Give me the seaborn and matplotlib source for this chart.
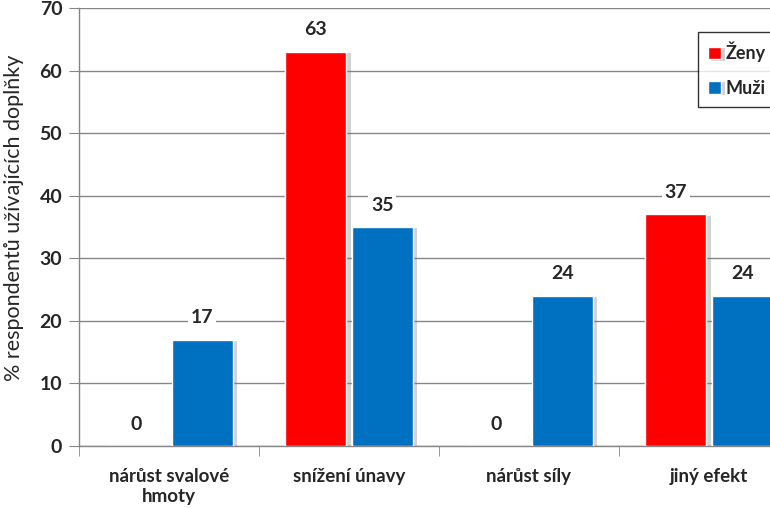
import numpy as np
import pandas as pd
import matplotlib
matplotlib.use('Agg')
import matplotlib.pyplot as plt
import matplotlib.patheffects as pe
import seaborn as sns

# data
categories = ['nárůst svalové\nhmoty', 'snížení únavy', 'nárůst síly', 'jiný efekt']
zeny = [0, 63, 0, 37]
muzi = [17, 35, 24, 24]
groups = ['Ženy', 'Muži']
colors = {'Ženy': '#FF0000', 'Muži': '#0070C0'}

df = pd.DataFrame({
    'kategorie': categories * 2,
    'skupina': ['Ženy'] * 4 + ['Muži'] * 4,
    'hodnota': zeny + muzi,
})

sns.set_style('white')
plt.rcParams['font.family'] = ['Lato', 'DejaVu Sans']

fig = plt.figure(figsize=(7.7, 5.08), dpi=100)
ax = fig.add_axes([79 / 770, 1 - 446 / 508, 1 - 79 / 770, (446 - 8) / 508])

sns.barplot(data=df, x='kategorie', y='hodnota', hue='skupina', hue_order=groups,
            palette=colors, width=0.74, gap=0.08, saturation=1, ax=ax, zorder=3)

# soft shadow on the right side of the bars, like in excel
for p in ax.patches:
    p.set_path_effects([pe.SimplePatchShadow(offset=(3, -1), shadow_rgbFace='#7f7f7f', alpha=0.35), pe.Normal()])

# value labels
for cont in ax.containers:
    for bar, val in zip(cont, cont.datavalues):
        ax.text(bar.get_x() + bar.get_width() / 2, val + 3.5, f'{int(val)}',
                ha='center', va='center', fontsize=14, fontweight='bold',
                bbox=dict(facecolor='white', edgecolor='none', pad=2), zorder=4)

ax.set_yticks(range(0, 71, 10))
ax.yaxis.grid(True, color='#868686', linewidth=1, zorder=0)
ax.set_axisbelow(True)

for s in ['top', 'right']:
    ax.spines[s].set_visible(False)
for s in ['left', 'bottom']:
    ax.spines[s].set_color('#868686')
    ax.spines[s].set_linewidth(1)

ax.tick_params(axis='y', which='major', length=7, color='#868686', direction='out',
               labelsize=14, pad=5, left=True)
for lbl in ax.get_yticklabels():
    lbl.set_fontweight('bold')

# category boundary ticks on x axis, labels at centers
ax.set_xticks(np.arange(-0.5, 3.6, 1.0), minor=True)
ax.tick_params(axis='x', which='minor', length=7, color='#868686', direction='out', bottom=True)
ax.tick_params(axis='x', which='major', length=0, labelsize=13.5, pad=16)
for lbl in ax.get_xticklabels():
    lbl.set_fontweight('bold')

# limits last, set_xticks can widen them
ax.set_ylim(0, 70)
ax.set_xlim(-0.5, -0.5 + (770 - 79) / 180)

ax.set_xlabel('')
ax.set_ylabel('% respondentů užívajících doplňky', fontsize=15.5)
ax.yaxis.set_label_coords(-0.08, 0.52)

leg = ax.legend(loc='upper left', bbox_to_anchor=((698 - 79) / 691, (446 - 32) / 438),
                borderaxespad=0, frameon=True, fancybox=False, edgecolor='black', fontsize=13,
                handlelength=0.7, handleheight=0.7, handletextpad=0.3,
                labelspacing=0.95, borderpad=0.55, title=None)
leg.get_frame().set_linewidth(1)
for t in leg.get_texts():
    t.set_fontweight('bold')

fig.savefig('out.png', dpi=100)
